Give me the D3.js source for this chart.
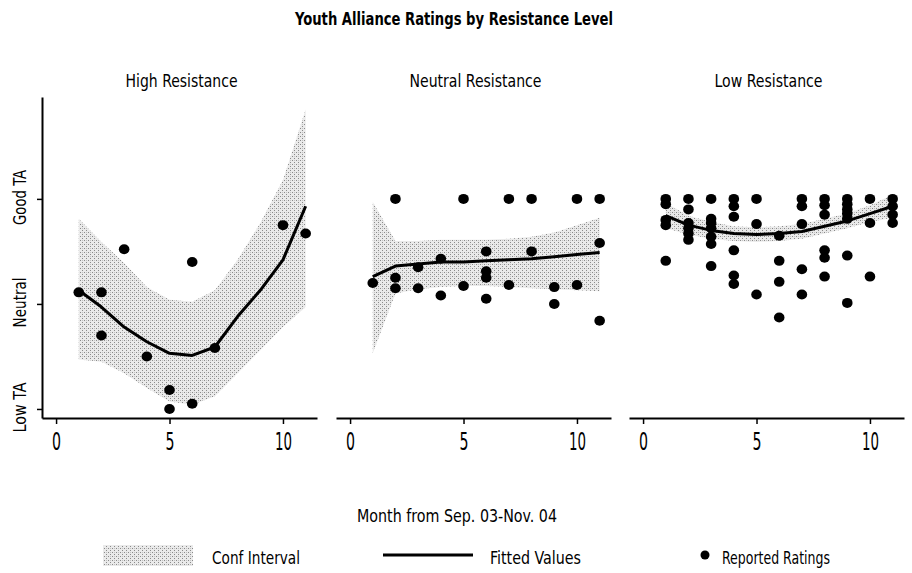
<!DOCTYPE html>
<html>
<head>
<meta charset="utf-8">
<script src="https://cdn.jsdelivr.net/npm/d3@7"></script>
<style>
  html, body { margin: 0; padding: 0; background: #fff; }
  svg { display: block; }
  text { font-family: "DejaVu Sans Condensed", "DejaVu Sans", sans-serif; font-stretch: condensed; fill: #000; }
</style>
</head>
<body>
<svg id="chart" width="912" height="573"></svg>
<script>
// ---------------- DATA ----------------
const title = "Youth Alliance Ratings by Resistance Level";
const panelTitles = ["High Resistance", "Neutral Resistance", "Low Resistance"];
const xTitle = "Month from Sep. 03-Nov. 04";
const xTicks = [0, 5, 10];
const yTickValues = [1, 2, 3];
const yTickLabels = ["Low TA", "Neutral", "Good TA"];
const legendLabels = ["Conf Interval", "Fitted Values", "Reported Ratings"];

const months = [1, 2, 3, 4, 5, 6, 7, 8, 9, 10, 11];

// High resistance
const highFit = [2.13, 1.97, 1.78, 1.64, 1.53, 1.51, 1.59, 1.88, 2.13, 2.42, 2.93];
const highUpper = [2.81, 2.59, 2.39, 2.16, 2.04, 2.02, 2.13, 2.42, 2.77, 3.18, 3.85];
const highLower = [1.47, 1.45, 1.34, 1.20, 1.07, 1.04, 1.12, 1.34, 1.56, 1.78, 1.97];
const highPoints = [
  [1, 2.11], [2, 2.11], [2, 1.70], [3, 2.52], [4, 1.50], [5, 1.18], [5, 1.00],
  [6, 2.40], [6, 1.05], [7, 1.58], [10, 2.75], [11, 2.67]
];

// Neutral resistance
const neutralFit = [2.26, 2.36, 2.38, 2.40, 2.40, 2.41, 2.42, 2.43, 2.45, 2.47, 2.49];
const neutralUpper = [2.97, 2.60, 2.60, 2.61, 2.61, 2.61, 2.62, 2.64, 2.68, 2.75, 2.82];
const neutralLower = [1.53, 2.10, 2.14, 2.16, 2.17, 2.17, 2.16, 2.15, 2.14, 2.13, 2.12];
const neutralPoints = [
  [2, 3.0], [5, 3.0], [7, 3.0], [8, 3.0], [10, 3.0], [11, 3.0],
  [1, 2.20], [2, 2.25], [2, 2.15], [3, 2.35], [3, 2.15], [4, 2.43], [4, 2.08],
  [5, 2.17], [6, 2.50], [6, 2.31], [6, 2.25], [6, 2.05], [7, 2.18], [8, 2.50],
  [9, 2.16], [9, 2.00], [10, 2.18], [11, 2.58], [11, 1.84]
];

// Low resistance
const lowFit = [2.84, 2.75, 2.70, 2.67, 2.66, 2.67, 2.69, 2.74, 2.79, 2.86, 2.93];
const lowUpper = [2.96, 2.84, 2.78, 2.74, 2.73, 2.74, 2.76, 2.81, 2.86, 2.94, 3.04];
const lowLower = [2.72, 2.66, 2.62, 2.60, 2.59, 2.60, 2.62, 2.67, 2.72, 2.78, 2.82];
const lowPoints = [
  [1, 3.0], [1, 2.95], [1, 2.80], [1, 2.75], [1, 2.41],
  [2, 3.0], [2, 2.90], [2, 2.77], [2, 2.72], [2, 2.67], [2, 2.61],
  [3, 3.0], [3, 2.81], [3, 2.77], [3, 2.72], [3, 2.64], [3, 2.57], [3, 2.36],
  [4, 3.0], [4, 2.93], [4, 2.83], [4, 2.51], [4, 2.27], [4, 2.19],
  [5, 3.0], [5, 2.76], [5, 2.09],
  [6, 2.65], [6, 2.41], [6, 2.21], [6, 1.87],
  [7, 3.0], [7, 2.93], [7, 2.76], [7, 2.33], [7, 2.09],
  [8, 3.0], [8, 2.94], [8, 2.85], [8, 2.51], [8, 2.44], [8, 2.26],
  [9, 3.0], [9, 2.95], [9, 2.90], [9, 2.86], [9, 2.81], [9, 2.46], [9, 2.01],
  [10, 3.0], [10, 2.77], [10, 2.26],
  [11, 3.0], [11, 2.93], [11, 2.85], [11, 2.77]
];

const panelData = [
  { fit: highFit, upper: highUpper, lower: highLower, points: highPoints },
  { fit: neutralFit, upper: neutralUpper, lower: neutralLower, points: neutralPoints },
  { fit: lowFit, upper: lowUpper, lower: lowLower, points: lowPoints }
];

// ---------------- LAYOUT ----------------
const svg = d3.select("#chart");
const panelLeft = [42, 336, 629];
const panelWidth = 275;
const plotTop = 97, plotBottom = 418;
const xDomain = [-0.62, 11.5];
const yDomain = [0.914, 3.97];
const panelTitleWidths = [112, 132, 108];
const yLabelWidths = [50, 50, 55];

const y = d3.scaleLinear().domain(yDomain).range([plotBottom, plotTop]);

function fitText(sel, w) {
  sel.attr("textLength", w).attr("lengthAdjust", "spacingAndGlyphs");
}

// CI pattern
const defs = svg.append("defs");
const pat = defs.append("pattern")
  .attr("id", "ciPattern")
  .attr("patternUnits", "userSpaceOnUse")
  .attr("width", 4).attr("height", 4);
pat.append("rect").attr("width", 4).attr("height", 4).attr("fill", "#eaeaea");
pat.append("rect").attr("x", 0).attr("y", 0).attr("width", 1).attr("height", 1).attr("fill", "#8a8a8a");
pat.append("rect").attr("x", 2).attr("y", 2).attr("width", 1).attr("height", 1).attr("fill", "#8a8a8a");
pat.append("rect").attr("x", 2).attr("y", 0).attr("width", 1).attr("height", 1).attr("fill", "#c2c2c2");

// Title
svg.append("text")
  .attr("x", 295).attr("y", 25)
  .style("font-size", "17px").style("font-weight", "bold")
  .text(title)
  .call(fitText, 318);

panelData.forEach((pd, i) => {
  const x = d3.scaleLinear().domain(xDomain).range([panelLeft[i], panelLeft[i] + panelWidth]);
  const g = svg.append("g");

  // panel title
  const cx = panelLeft[i] + panelWidth / 2 + 2;
  g.append("text")
    .attr("x", cx - panelTitleWidths[i] / 2)
    .attr("y", 87)
    .style("font-size", "18px")
    .text(panelTitles[i])
    .call(fitText, panelTitleWidths[i]);

  // CI band
  const area = d3.area()
    .x((d, k) => x(months[k]))
    .y0((d, k) => y(pd.lower[k]))
    .y1((d, k) => y(pd.upper[k]));
  g.append("path")
    .datum(months)
    .attr("d", area)
    .attr("fill", "url(#ciPattern)");

  // Fitted line
  const line = d3.line()
    .x((d, k) => x(months[k]))
    .y(d => y(d));
  g.append("path")
    .datum(pd.fit)
    .attr("d", line)
    .attr("fill", "none")
    .attr("stroke", "#000")
    .attr("stroke-width", 3)
    .attr("stroke-linejoin", "round");

  // Points
  g.selectAll("ellipse.pt")
    .data(pd.points)
    .enter().append("ellipse")
    .attr("class", "pt")
    .attr("cx", d => x(d[0]))
    .attr("cy", d => y(d[1]))
    .attr("rx", 5.3).attr("ry", 5)
    .attr("fill", "#000");

  // X axis
  const xAxis = g.append("g")
    .attr("transform", `translate(0,${plotBottom})`)
    .call(d3.axisBottom(x).tickValues(xTicks).tickSize(6).tickSizeOuter(0).tickPadding(5));
  xAxis.select(".domain").attr("stroke", "#000").attr("stroke-width", 2);
  xAxis.selectAll(".tick line").attr("stroke", "#000").attr("stroke-width", 1.5);
  xAxis.selectAll(".tick text")
    .attr("y", 32).attr("dy", null)
    .style("font-size", "24px")
    .style("font-family", "'DejaVu Sans Condensed', 'DejaVu Sans', sans-serif")
    .style("font-stretch", "condensed")
    .each(function(d) {
      d3.select(this).attr("textLength", d >= 10 ? 17 : 9).attr("lengthAdjust", "spacingAndGlyphs");
    });

  if (i === 0) {
    const yAxis = g.append("g")
      .attr("transform", `translate(${panelLeft[i]},0)`)
      .call(d3.axisLeft(y).tickValues(yTickValues)
        .tickFormat((d, k) => yTickLabels[k]).tickSize(5).tickSizeOuter(0));
    yAxis.select(".domain").attr("stroke", "#000").attr("stroke-width", 2);
    yAxis.selectAll(".tick line").attr("stroke", "#000").attr("stroke-width", 1.5);
    yAxis.selectAll(".tick text")
      .attr("x", 0).attr("dy", null)
      .attr("transform", "translate(-16,-2) rotate(-90)")
      .style("text-anchor", "middle")
      .style("font-size", "18px")
      .style("font-family", "'DejaVu Sans Condensed', 'DejaVu Sans', sans-serif")
      .style("font-stretch", "condensed")
      .each(function(d, k) {
        d3.select(this).attr("textLength", yLabelWidths[k]).attr("lengthAdjust", "spacingAndGlyphs");
      });
  }
});

// X title
svg.append("text")
  .attr("x", 357).attr("y", 522)
  .style("font-size", "18px")
  .text(xTitle)
  .call(fitText, 200);

// Legend
const lg = svg.append("g");
lg.append("rect").attr("x", 103).attr("y", 545).attr("width", 90).attr("height", 21)
  .attr("fill", "url(#ciPattern)");
lg.append("text").attr("x", 212).attr("y", 564).style("font-size", "18px").text(legendLabels[0]).call(fitText, 88);
lg.append("line").attr("x1", 383).attr("x2", 473).attr("y1", 555).attr("y2", 555)
  .attr("stroke", "#000").attr("stroke-width", 3);
lg.append("text").attr("x", 490).attr("y", 564).style("font-size", "18px").text(legendLabels[1]).call(fitText, 91);
lg.append("ellipse").attr("cx", 705).attr("cy", 555).attr("rx", 4.5).attr("ry", 4.5).attr("fill", "#000");
lg.append("text").attr("x", 722).attr("y", 564).style("font-size", "18px").text(legendLabels[2]).call(fitText, 108);
</script>
</body>
</html>
